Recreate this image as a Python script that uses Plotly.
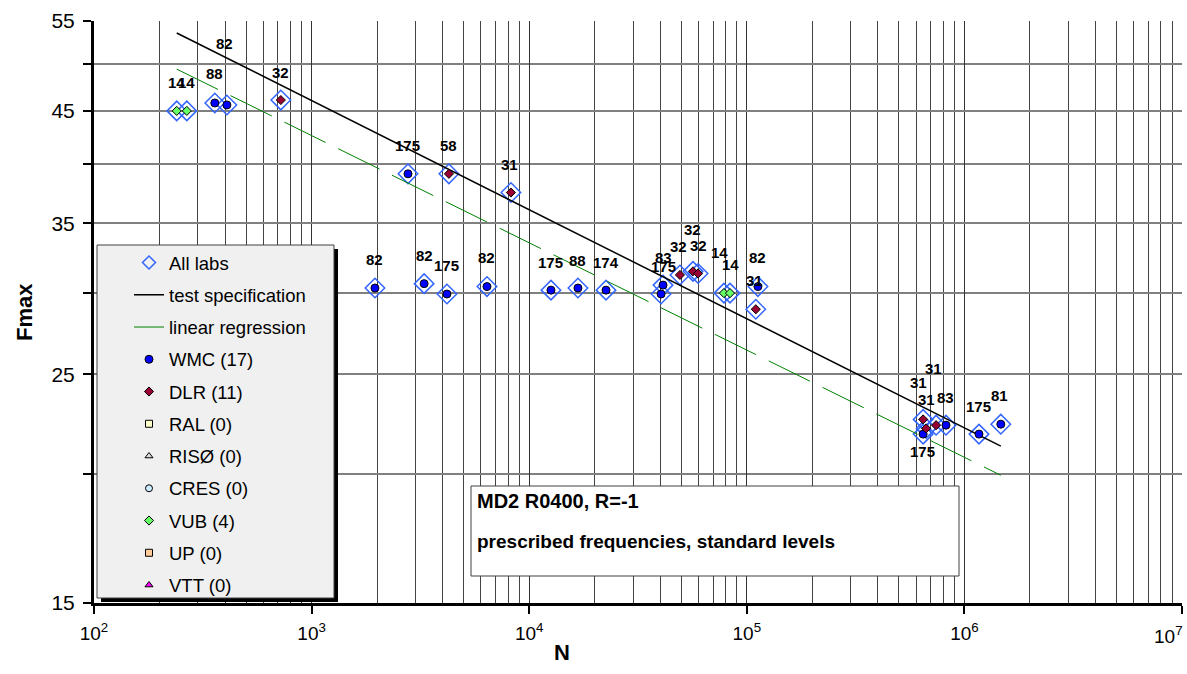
import numpy as np
import plotly.graph_objects as go

# ---------------- data ----------------
wmc_n = [359, 408, 2773, 1955, 3289, 4188, 6397, 12590, 16750, 22540,
         41200, 40370, 112500, 646000, 823000, 1167000, 1470000]
wmc_f = [45.8, 45.6, 39.1, 30.3, 30.6, 29.9, 30.4, 30.16, 30.3, 30.16,
         30.5, 29.9, 30.4, 21.87, 22.31, 21.87, 22.36]
wmc_lab = ["88", "82", "175", "82", "82", "175", "82", "175", "88", "174",
           "83", "175", "82", "175", "83", "175", "81"]

dlr_n = [722, 4276, 8240, 49300, 56600, 59700, 110000, 646000, 667000, 741000]
dlr_f = [46.1, 39.1, 37.5, 31.2, 31.45, 31.3, 28.9, 22.6, 22.15, 22.31]
dlr_lab = ["32", "58", "31", "32", "32", "32", "31", "31", "31", "31"]

vub_n = [240, 267, 78500, 83700]
vub_f = [45.0, 45.0, 29.96, 29.96]
vub_lab = ["14", "14", "14", "14"]

spec_n = [240, 1470000]
spec_f = [53.55, 21.29]
reg_n = [240, 1470000]
reg_f = [49.4, 19.95]

x_tick_vals = [1e2, 1e3, 1e4, 1e5, 1e6, 1e7]
x_tick_text = ["10<sup>2</sup>", "10<sup>3</sup>", "10<sup>4</sup>",
               "10<sup>5</sup>", "10<sup>6</sup>", "10<sup>7</sup>"]
y_tick_vals = [15, 25, 35, 45, 55]
y_minor_vals = [20, 30, 40, 50]

# label offsets (pixels: dx, dy up)
wmc_off = [(0, 29), (-2, 61), (0, 28), (0, 29), (0, 28), (0, 29), (0, 29), (0, 28),
           (0, 28), (0, 28), (0, 28), (2, 28), (0, 29), (-1, -17), (0, 28), (0, 28), (-1, 29)]
dlr_off = [(0, 28), (0, 28), (-1, 28), (-1, 28), (-1, 42), (0, 28), (-1, 29),
           (-5, 37), (0, 29), (-3, 57)]
vub_off = [(0, 28), (0, 28), (-4, 41), (1, 29)]

FONT = "Liberation Sans, Arial, sans-serif"

fig = go.Figure()

all_n = wmc_n + dlr_n + vub_n
all_f = wmc_f + dlr_f + vub_f

fig.add_trace(go.Scatter(x=all_n, y=all_f, mode="markers", showlegend=False,
                         legendgroup="g1",
                         marker=dict(symbol="diamond-open", size=15, color="#3366FF",
                                     line=dict(width=1.5, color="#3366FF"))))
fig.add_trace(go.Scatter(x=[None], y=[None], mode="markers", name="All labs",
                         legendgroup="g1",
                         marker=dict(symbol="diamond-open", size=10, color="#3366FF",
                                     line=dict(width=1.5, color="#3366FF"))))
fig.add_trace(go.Scatter(x=spec_n, y=spec_f, mode="lines", name="test specification",
                         legendgroup="g2", line=dict(color="black", width=1.5)))
fig.add_trace(go.Scatter(x=reg_n, y=reg_f, mode="lines", showlegend=False,
                         legendgroup="g3",
                         line=dict(color="#008000", width=1, dash="46px,14px")))
fig.add_trace(go.Scatter(x=[None], y=[None], mode="lines", name="linear regression",
                         legendgroup="g3", line=dict(color="#008000", width=1)))
fig.add_trace(go.Scatter(x=wmc_n, y=wmc_f, mode="markers", name="WMC (17)",
                         legendgroup="g4",
                         marker=dict(symbol="circle", size=8, color="#0000FF",
                                     line=dict(width=1, color="black"))))
fig.add_trace(go.Scatter(x=dlr_n, y=dlr_f, mode="markers", name="DLR (11)",
                         legendgroup="g5",
                         marker=dict(symbol="diamond", size=7, color="#990033",
                                     line=dict(width=1, color="black"))))
empty = [("RAL (0)", "square", "#FFFFCC"), ("RISØ (0)", "triangle-up", "#DDDDDD"),
         ("CRES (0)", "circle", "#CCECFF")]
for i, (nm, sym, col) in enumerate(empty):
    fig.add_trace(go.Scatter(x=[None], y=[None], mode="markers", name=nm,
                             legendgroup="g%d" % (6 + i),
                             marker=dict(symbol=sym, size=7, color=col,
                                         line=dict(width=1, color="black"))))
fig.add_trace(go.Scatter(x=vub_n, y=vub_f, mode="markers", name="VUB (4)",
                         legendgroup="g9",
                         marker=dict(symbol="diamond", size=7, color="#66FF66",
                                     line=dict(width=1, color="black"))))
for i, (nm, sym, col) in enumerate([("UP (0)", "square", "#FFCC99"),
                                    ("VTT (0)", "triangle-up", "#FF00FF")]):
    fig.add_trace(go.Scatter(x=[None], y=[None], mode="markers", name=nm,
                             legendgroup="g%d" % (10 + i),
                             marker=dict(symbol=sym, size=7, color=col,
                                         line=dict(width=1, color="black"))))

# point labels
annotations = []
for ns, fs, labs, offs in [(wmc_n, wmc_f, wmc_lab, wmc_off),
                           (dlr_n, dlr_f, dlr_lab, dlr_off),
                           (vub_n, vub_f, vub_lab, vub_off)]:
    for n, f, lab, (dx, dy) in zip(ns, fs, labs, offs):
        annotations.append(dict(x=np.log10(n), y=np.log10(f), xref="x", yref="y",
                                text="<b>%s</b>" % lab, showarrow=False,
                                xanchor="center", yanchor="middle",
                                xshift=dx, yshift=dy,
                                font=dict(family=FONT, size=15, color="black")))

L, R, T, B = 94, 1182, 21, 603


def px(x):
    return (x - L) / (R - L)


def py(y):
    return (B - y) / (B - T)


shapes = [
    dict(type="rect", xref="paper", yref="paper", layer="above",
         x0=px(101), x1=px(338), y0=py(602), y1=py(249),
         fillcolor="black", line=dict(width=0)),
    dict(type="rect", xref="paper", yref="paper", layer="above",
         x0=px(97), x1=px(334), y0=py(598), y1=py(245),
         fillcolor="#F0F0F0", line=dict(width=1, color="#404040")),
    dict(type="rect", xref="paper", yref="paper", layer="above",
         x0=px(471), x1=px(959), y0=py(576), y1=py(486),
         fillcolor="white", line=dict(width=1, color="#404040")),
]

annotations += [
    dict(x=px(475), y=py(501), xref="paper", yref="paper", showarrow=False,
         xanchor="left", yanchor="middle", text="<b>MD2 R0400, R=-1</b>",
         font=dict(family=FONT, size=20, color="black")),
    dict(x=px(475), y=py(541), xref="paper", yref="paper", showarrow=False,
         xanchor="left", yanchor="middle",
         text="<b>prescribed frequencies, standard levels</b>",
         font=dict(family=FONT, size=19, color="black")),
    dict(x=px(24), y=py(312), xref="paper", yref="paper", showarrow=False,
         xanchor="center", yanchor="middle", textangle=-90, text="<b>Fmax</b>",
         font=dict(family=FONT, size=22, color="black")),
    dict(x=px(562), y=py(652), xref="paper", yref="paper", showarrow=False,
         xanchor="center", yanchor="middle", text="<b>N</b>",
         font=dict(family=FONT, size=22, color="black")),
    # last x tick label, shifted left to stay inside the page
    dict(x=px(1185), y=py(635), xref="paper", yref="paper", showarrow=False,
         xanchor="right", yanchor="middle", text=x_tick_text[-1],
         font=dict(family=FONT, size=19, color="black")),
]

x_minor = [k * 10 ** e for e in range(2, 7) for k in range(2, 10)]

fig.update_layout(
    width=1187, height=674,
    margin=dict(l=L, r=1187 - R, t=T, b=674 - B, pad=0),
    paper_bgcolor="white", plot_bgcolor="white",
    font=dict(family=FONT, color="black"),
    showlegend=True,
    legend=dict(x=px(129), y=py(244), xanchor="left", yanchor="top",
                xref="paper", yref="paper",
                bgcolor="rgba(0,0,0,0)", borderwidth=0,
                traceorder="grouped", tracegroupgap=5.2,
                font=dict(family=FONT, size=18.5, color="black")),
    shapes=shapes,
    annotations=annotations,
    xaxis=dict(type="log", range=[2, 7], tickvals=x_tick_vals,
               ticktext=x_tick_text[:-1] + [""],
               showgrid=True, gridcolor="#333333", gridwidth=1,
               showline=True, linecolor="black", linewidth=3,
               ticks="outside", ticklen=8, tickwidth=2, tickcolor="black",
               ticklabelstandoff=3,
               tickfont=dict(family=FONT, size=19, color="black"),
               minor=dict(tickvals=x_minor, showgrid=True, gridcolor="#444444",
                          gridwidth=1, ticks=""),
               zeroline=False),
    yaxis=dict(type="log", range=[np.log10(15), np.log10(55)],
               tickvals=y_tick_vals, ticktext=[str(v) for v in y_tick_vals],
               showgrid=True, gridcolor="#808080", gridwidth=1.5,
               showline=True, linecolor="black", linewidth=3,
               ticks="outside", ticklen=8, tickwidth=2, tickcolor="black",
               ticklabelstandoff=4,
               tickfont=dict(family=FONT, size=21, color="black"),
               minor=dict(tickvals=y_minor_vals, showgrid=True, gridcolor="#808080",
                          gridwidth=1.5, ticks="outside", ticklen=8, tickwidth=2,
                          tickcolor="black"),
               zeroline=False),
)

fig.write_html("out.html")
